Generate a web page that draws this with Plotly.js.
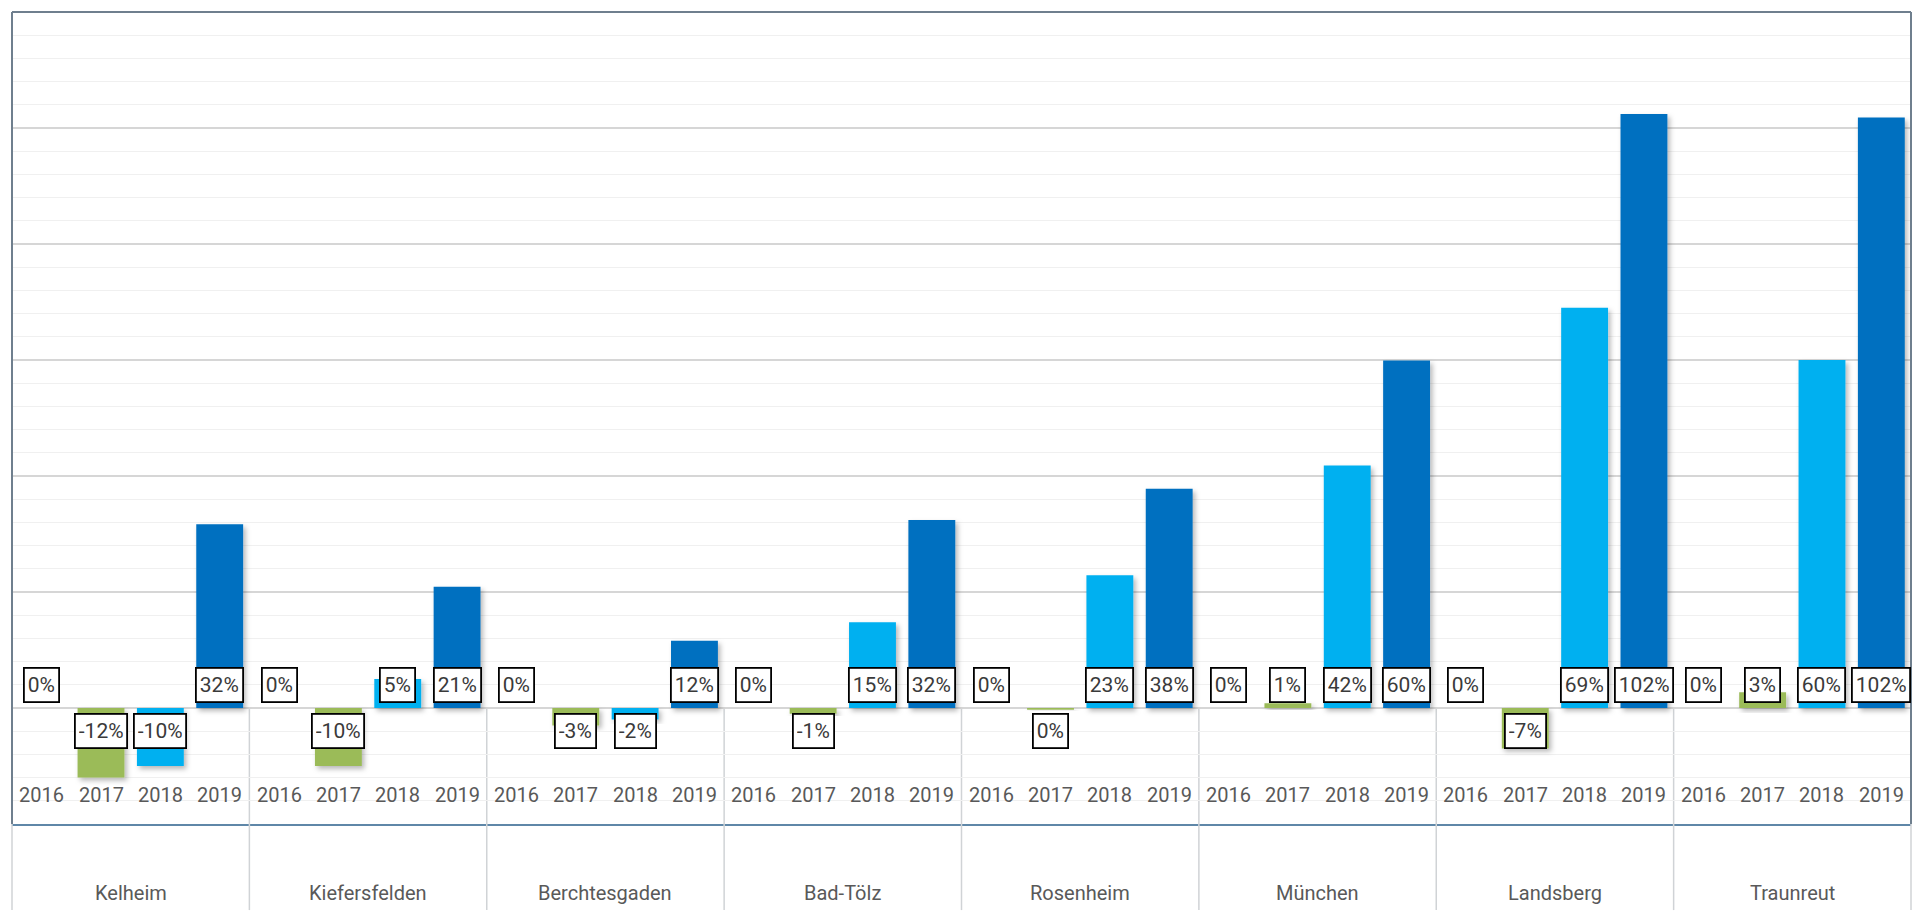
<!DOCTYPE html>
<html>
<head>
<meta charset="utf-8">
<script src="https://cdn.plot.ly/plotly-3.0.1.min.js"></script>
<style>
  html, body { margin: 0; padding: 0; background: #ffffff; }
  #chart { width: 1920px; height: 917px; }
</style>
</head>
<body>
<div id="chart"></div>
<script>
// ---- data ----
const cities = ['Kelheim', 'Kiefersfelden', 'Berchtesgaden', 'Bad-Tölz', 'Rosenheim', 'München', 'Landsberg', 'Traunreut'];
const years = ['2016', '2017', '2018', '2019'];
const v2016 = [0, 0, 0, 0, 0, 0, 0, 0];
const v2017 = [-12, -10, -3, -1, -0.3, 0.8, -7, 2.7];
const v2018 = [-10, 5, -2, 14.8, 22.9, 41.8, 69, 60];
const v2019 = [31.7, 20.9, 11.6, 32.4, 37.8, 59.9, 102.4, 101.8];
const seriesValues = [v2016, v2017, v2018, v2019];
const seriesColors = ['#7F7F7F', '#9BBB59', '#00B0F0', '#0070C0'];

const FONT = 'Liberation Sans Narrow, Roboto, Arial Narrow, sans-serif';

const traces = seriesValues.map((vals, j) => ({
  type: 'bar',
  name: years[j],
  x: cities,
  y: vals,
  marker: { color: seriesColors[j], line: { width: 0 } },
  hoverinfo: 'skip'
}));

const annotations = [];
cities.forEach((c, i) => {
  seriesValues.forEach((vals, j) => {
    const v = vals[i];
    const r = Math.round(v);
    const neg = v < 0;
    // data labels
    annotations.push({
      x: i + (j - 1.5) * 0.25,
      y: 0,
      xref: 'x', yref: 'y',
      text: (r === 0 ? 0 : r) + '%',
      showarrow: false,
      xanchor: 'center',
      yanchor: neg ? 'top' : 'bottom',
      yshift: neg ? -5 : 5,
      height: 26,
      valign: 'middle',
      bgcolor: '#ffffff',
      bordercolor: '#000000',
      borderwidth: 1.8,
      borderpad: 3,
      font: { family: FONT, size: 21, color: '#3A3A3A' }
    });
    // year labels
    annotations.push({
      x: i + (j - 1.5) * 0.25,
      y: -15,
      xref: 'x', yref: 'y',
      text: years[j],
      showarrow: false,
      xanchor: 'center', yanchor: 'middle',
      font: { family: FONT, size: 20, color: '#595959' }
    });
  });
  // city labels
  annotations.push({
    x: i,
    y: -0.085,
    xref: 'x', yref: 'paper',
    text: c,
    showarrow: false,
    xanchor: 'center', yanchor: 'middle',
    font: { family: FONT, size: 20, color: '#595959' }
  });
});

const shapes = [];
const sepColor = '#D0D3D6';
for (let k = 1; k < cities.length; k++) {
  shapes.push({ type: 'line', xref: 'x', yref: 'y', x0: k - 0.5, x1: k - 0.5, y0: 0, y1: -20,
                line: { color: sepColor, width: 1.5 }, layer: 'below' });
  shapes.push({ type: 'line', xref: 'x', yref: 'paper', x0: k - 0.5, x1: k - 0.5, y0: 0, y1: -0.106,
                line: { color: sepColor, width: 1.5 } });
}
[0, 1].forEach(px => {
  shapes.push({ type: 'line', xref: 'paper', yref: 'paper', x0: px, x1: px, y0: 0, y1: -0.106,
                line: { color: sepColor, width: 1.5 } });
});
const frameColor = '#6F7F8E';
shapes.push({ type: 'line', xref: 'paper', yref: 'paper', x0: 0, x1: 0, y0: 0, y1: 1, line: { color: frameColor, width: 2 } });
shapes.push({ type: 'line', xref: 'paper', yref: 'paper', x0: 0, x1: 1, y0: 1, y1: 1, line: { color: frameColor, width: 2 } });
shapes.push({ type: 'line', xref: 'paper', yref: 'paper', x0: 1, x1: 1, y0: 0, y1: 1, line: { color: frameColor, width: 2 } });

const layout = {
  width: 1920,
  height: 917,
  margin: { l: 12, r: 9, t: 12, b: 93 },
  paper_bgcolor: '#ffffff',
  plot_bgcolor: '#ffffff',
  showlegend: false,
  hovermode: false,
  barmode: 'group',
  bargap: 0,
  bargroupgap: 0.21,
  xaxis: {
    type: 'category',
    range: [-0.5, cities.length - 0.5],
    showticklabels: false,
    ticks: '',
    showgrid: false,
    zeroline: false,
    showline: true,
    linecolor: '#5F87A8',
    linewidth: 2,
    fixedrange: true
  },
  yaxis: {
    range: [-20, 120],
    dtick: 20,
    tick0: 0,
    showticklabels: false,
    ticks: '',
    showgrid: true,
    gridcolor: '#D6D6D6',
    gridwidth: 1.3,
    zeroline: true,
    zerolinecolor: '#D6D6D6',
    zerolinewidth: 1.3,
    minor: { dtick: 4, tick0: 0, showgrid: true, gridcolor: '#F0F0F0', gridwidth: 1.2 },
    showline: false,
    fixedrange: true
  },
  annotations: annotations,
  shapes: shapes,
  font: { family: FONT }
};

Plotly.newPlot('chart', traces, layout, { displayModeBar: false, staticPlot: true }).then(gd => {
  const svg = gd.querySelector('svg.main-svg');
  const ns = 'http://www.w3.org/2000/svg';
  let defs = svg.querySelector('defs');
  if (!defs) { defs = document.createElementNS(ns, 'defs'); svg.insertBefore(defs, svg.firstChild); }
  const f = document.createElementNS(ns, 'filter');
  f.setAttribute('id', 'barShadow');
  f.setAttribute('x', '-30%'); f.setAttribute('y', '-30%');
  f.setAttribute('width', '160%'); f.setAttribute('height', '160%');
  const ds = document.createElementNS(ns, 'feDropShadow');
  ds.setAttribute('dx', '2.5'); ds.setAttribute('dy', '3');
  ds.setAttribute('stdDeviation', '2.5');
  ds.setAttribute('flood-color', '#000000');
  ds.setAttribute('flood-opacity', '0.28');
  f.appendChild(ds);
  defs.appendChild(f);
  gd.querySelectorAll('.barlayer .point path').forEach(p => p.setAttribute('filter', 'url(#barShadow)'));
});
</script>
</body>
</html>
